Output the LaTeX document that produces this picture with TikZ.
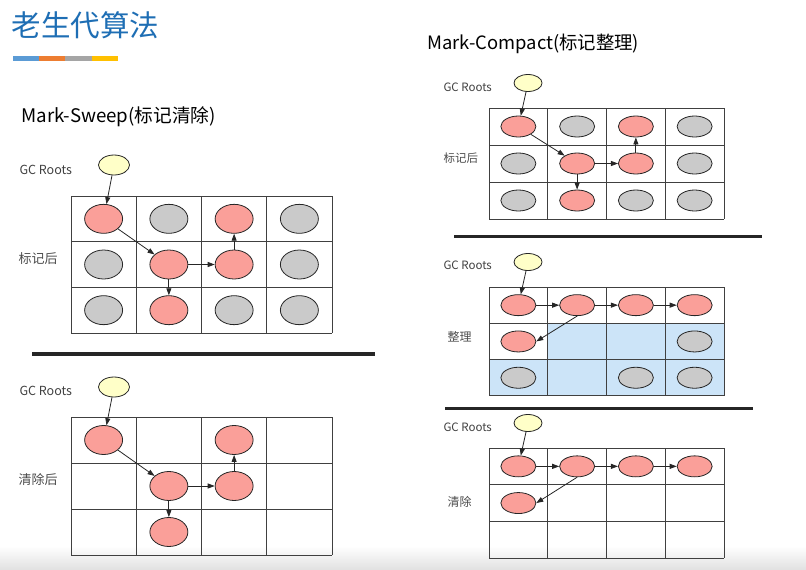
\documentclass[tikz,border=0pt]{standalone}
\usepackage{fontspec}
\setmainfont{Noto Sans CJK SC}
\usepackage{xcolor}
\usetikzlibrary{arrows.meta,shapes.geometric}

\definecolor{titleblue}{HTML}{1E6EB4}
\definecolor{barblue}{HTML}{5B9BD5}
\definecolor{barorange}{HTML}{ED7D31}
\definecolor{bargray}{HTML}{A5A5A5}
\definecolor{baryellow}{HTML}{FFC000}
\definecolor{livered}{HTML}{FA9F99}
\definecolor{deadgray}{HTML}{CACACA}
\definecolor{rootyellow}{HTML}{FFFFC8}
\definecolor{freeblue}{HTML}{CCE4F8}

\begin{document}
\begin{tikzpicture}[x=1pt, y=-1pt,
  cell/.style={draw=black!75, line width=1pt},
  live/.style={ellipse, draw=black!85, line width=0.8pt, fill=livered, inner sep=0pt},
  dead/.style={live, fill=deadgray},
  root/.style={live, fill=rootyellow},
  big/.style={minimum width=38pt, minimum height=29pt},
  small/.style={minimum width=35pt, minimum height=21pt},
  ptr/.style={-{Triangle[length=7pt,width=5pt]}, line width=0.8pt, draw=black!85},
  sep/.style={line width=3.5pt, draw=black!85},
  gcnote/.style={anchor=west, text=black!75, font=\fontsize{12.5}{14}\selectfont},
  side/.style={anchor=west, text=black!70, font=\fontsize{13}{15}\selectfont}]
  \useasboundingbox (0,0) rectangle (806,570);
  \shade[top color=white, bottom color=black!12] (0,546) rectangle (806,570);
  % Title and colour bar
  \node[anchor=west, text=titleblue, font=\fontsize{29.5}{32}\selectfont] (title) at (8,25) {老生代算法};
  \fill[barblue] (13,56) rectangle (39,61);
  \fill[barorange] (39,56) rectangle (65,61);
  \fill[bargray] (65,56) rectangle (92,61);
  \fill[baryellow] (92,56) rectangle (118,61);

  % Mark-Sweep, after marking
  \node[anchor=west, font=\fontsize{18.7}{20}\selectfont] (sweep) at (18,117) {Mark-Sweep(标记清除)};
  \node[gcnote] (gc1) at (16,170) {GC Roots};
  \node[side] (lbl1) at (15,259) {标记后};
  \node[root, minimum width=31pt, minimum height=20pt] (r1) at (114,165) {};
  \begin{scope}[shift={(71,196)}, x=65.25pt, y=-45.67pt]
    \foreach \i in {0,...,4} \draw[cell] (\i,0) -- (\i,3);
    \foreach \j in {0,...,3} \draw[cell] (0,\j) -- (4,\j);
    \foreach \c/\r/\k in {0/0/live,1/0/dead,2/0/live,3/0/dead,0/1/dead,1/1/live,2/1/live,3/1/dead,0/2/dead,1/2/live,2/2/dead,3/2/dead}
      \node[\k, big] (a\c\r) at (\c+.5,\r+.5) {};
  \end{scope}
  \draw[ptr] (r1) -- (a00);
  \draw[ptr] (a00) -- (a11);
  \draw[ptr] (a11) -- (a12);
  \draw[ptr] (a11) -- (a21);
  \draw[ptr] (a21) -- (a20);

  \draw[sep] (32,354) -- (375,354);

  % Mark-Sweep, after sweeping
  \node[gcnote] (gc2) at (16,391) {GC Roots};
  \node[side] (lbl2) at (15,480) {清除后};
  \node[root, minimum width=31pt, minimum height=20pt] (r2) at (114,387) {};
  \begin{scope}[shift={(71,417)}, x=65.25pt, y=-46pt]
    \foreach \i in {0,...,4} \draw[cell] (\i,0) -- (\i,3);
    \foreach \j in {0,...,3} \draw[cell] (0,\j) -- (4,\j);
    \foreach \c/\r in {0/0,2/0,1/1,2/1,1/2}
      \node[live, big] (b\c\r) at (\c+.5,\r+.5) {};
  \end{scope}
  \draw[ptr] (r2) -- (b00);
  \draw[ptr] (b00) -- (b11);
  \draw[ptr] (b11) -- (b12);
  \draw[ptr] (b11) -- (b21);
  \draw[ptr] (b21) -- (b20);

  % Mark-Compact, after marking
  \node[anchor=west, font=\fontsize{18.4}{20}\selectfont] (compact) at (424,44) {Mark-Compact(标记整理)};
  \node[gcnote, font=\fontsize{11.5}{13}\selectfont] (gc3) at (440,87) {GC Roots};
  \node[side, font=\fontsize{11.5}{13}\selectfont] (lbl3) at (440,158) {标记后};
  \node[root, minimum width=28pt, minimum height=17pt] (r3) at (528,83) {};
  \begin{scope}[shift={(489,108)}, x=58.75pt, y=-37pt]
    \foreach \i in {0,...,4} \draw[cell] (\i,0) -- (\i,3);
    \foreach \j in {0,...,3} \draw[cell] (0,\j) -- (4,\j);
    \foreach \c/\r/\k in {0/0/live,1/0/dead,2/0/live,3/0/dead,0/1/dead,1/1/live,2/1/live,3/1/dead,0/2/dead,1/2/live,2/2/dead,3/2/dead}
      \node[\k, small] (c\c\r) at (\c+.5,\r+.5) {};
  \end{scope}
  \draw[ptr] (r3) -- (c00);
  \draw[ptr] (c00) -- (c11);
  \draw[ptr] (c11) -- (c12);
  \draw[ptr] (c11) -- (c21);
  \draw[ptr] (c21) -- (c20);

  \draw[sep, line width=3pt] (454,236) -- (762,236);

  % Mark-Compact, compacting
  \node[gcnote, font=\fontsize{11.5}{13}\selectfont] (gc4) at (440,265) {GC Roots};
  \node[side, font=\fontsize{12}{14}\selectfont] (lbl4) at (444,337) {整理};
  \node[root, minimum width=28pt, minimum height=17pt] (r4) at (528,262) {};
  \begin{scope}[shift={(489,287)}, x=58.75pt, y=-36.3pt]
    \fill[freeblue] (1,1) rectangle (4,2);
    \fill[freeblue] (0,2) rectangle (4,3);
    \foreach \i in {0,...,4} \draw[cell] (\i,0) -- (\i,3);
    \foreach \j in {0,...,3} \draw[cell] (0,\j) -- (4,\j);
    \foreach \c/\r/\k in {0/0/live,1/0/live,2/0/live,3/0/live,0/1/live,3/1/dead,0/2/dead,2/2/dead,3/2/dead}
      \node[\k, small] (d\c\r) at (\c+.5,\r+.5) {};
  \end{scope}
  \draw[ptr] (r4) -- (d00);
  \draw[ptr] (d00) -- (d10);
  \draw[ptr] (d10) -- (d20);
  \draw[ptr] (d20) -- (d30);
  \draw[ptr] (d10.south) -- (d01.east);

  \draw[sep, line width=3pt] (445,408) -- (753,408);

  % Mark-Compact, after clearing
  \node[gcnote, font=\fontsize{11.5}{13}\selectfont] (gc5) at (440,427) {GC Roots};
  \node[side, font=\fontsize{12}{14}\selectfont] (lbl5) at (444,502) {清除};
  \node[root, minimum width=28pt, minimum height=17pt] (r5) at (528,423) {};
  \begin{scope}[shift={(489,448)}, x=58.75pt, y=-36.7pt]
    \foreach \i in {0,...,4} \draw[cell] (\i,0) -- (\i,3);
    \foreach \j in {0,...,3} \draw[cell] (0,\j) -- (4,\j);
    \foreach \c/\r in {0/0,1/0,2/0,3/0,0/1}
      \node[live, small] (e\c\r) at (\c+.5,\r+.5) {};
  \end{scope}
  \draw[ptr] (r5) -- (e00);
  \draw[ptr] (e00) -- (e10);
  \draw[ptr] (e10) -- (e20);
  \draw[ptr] (e20) -- (e30);
  \draw[ptr] (e10.south) -- (e01.east);
\end{tikzpicture}
\end{document}
